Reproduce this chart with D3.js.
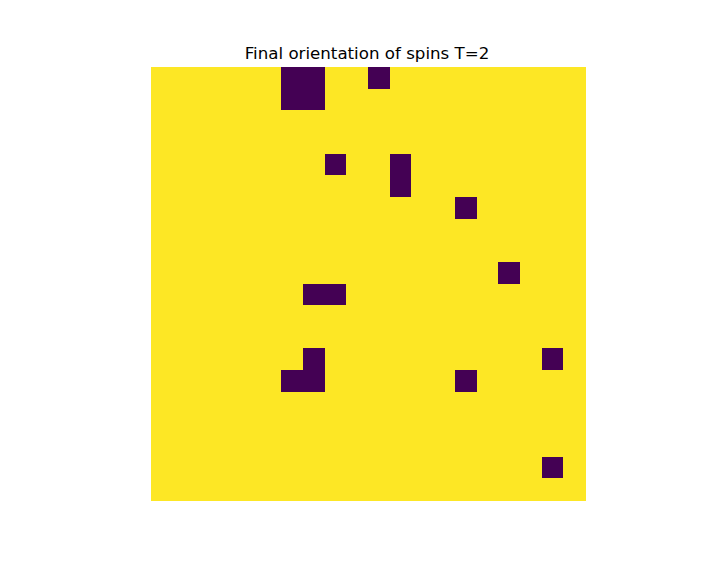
<!DOCTYPE html>
<html><head><meta charset="utf-8">
<script src="https://cdn.jsdelivr.net/npm/d3@7"></script>
<style>body{margin:0;background:#fff}</style>
</head><body>
<script>
const N = 20;
const title = "Final orientation of spins T=2";
// down spins (-1) as [row, col]; all others are +1
const downRows = [0,0,0,1,1,4,4,5,6,9,10,10,13,13,14,14,14,18];
const downCols = [6,7,10,6,7,8,11,11,14,16,7,8,7,18,6,7,14,18];

const grid = [];
for (let r = 0; r < N; r++) for (let c = 0; c < N; c++) grid.push({r, c, v: 1});
downRows.forEach((r, i) => { grid[r * N + downCols[i]].v = -1; });

const W = 716, H = 562;
const svg = d3.select("body").append("svg").attr("width", W).attr("height", H);
const x = d3.scaleBand().domain(d3.range(N)).range([151, 585]).paddingInner(0).paddingOuter(0);
const y = d3.scaleBand().domain(d3.range(N)).range([67, 500]);
const color = d3.scaleOrdinal().domain([-1, 1]).range(["#440154", "#fde725"]);

svg.append("g").selectAll("rect").data(grid).join("rect")
  .attr("x", d => x(d.c)).attr("y", d => y(d.r))
  .attr("width", x.bandwidth() + 0.5).attr("height", y.bandwidth() + 0.5)
  .attr("fill", d => color(d.v)).attr("shape-rendering", "crispEdges");

svg.append("text").attr("x", 367).attr("y", 59).attr("text-anchor", "middle")
  .attr("font-family", "DejaVu Sans").attr("font-size", "16.67px").attr("fill", "#000")
  .text(title);
</script>
</body></html>
